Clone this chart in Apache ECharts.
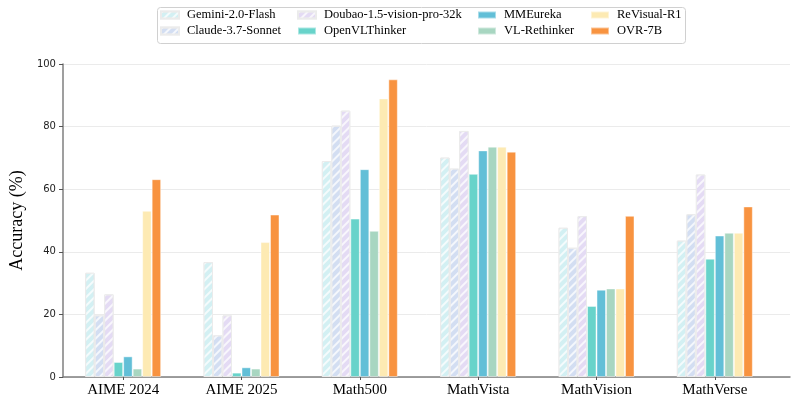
<!DOCTYPE html>
<html><head><meta charset="utf-8">
<script src="https://cdn.jsdelivr.net/npm/echarts@6/dist/echarts.min.js"></script>
<style>html,body{margin:0;padding:0;background:#fff}#c{width:793px;height:404px}</style>
</head><body><div id="c"></div>
<script>
const categories = ['AIME 2024','AIME 2025','Math500','MathVista','MathVision','MathVerse'];
const seriesNames = ['Gemini-2.0-Flash','Claude-3.7-Sonnet','Doubao-1.5-vision-pro-32k','OpenVLThinker','MMEureka','VL-Rethinker','ReVisual-R1','OVR-7B'];
const gemini   = [33.3, 36.7, 69.0, 70.1, 47.7, 43.6];
const claude   = [19.7, 13.3, 80.3, 66.6, 41.3, 52.0];
const doubao   = [26.4, 19.7, 85.1, 78.6, 51.4, 64.7];
const openvl   = [4.8, 1.4, 50.6, 64.9, 22.7, 37.8];
const mmeureka = [6.6, 3.1, 66.4, 72.4, 27.9, 45.2];
const vlreth   = [2.7, 2.7, 46.7, 73.6, 28.3, 46.1];
const revisual = [53.1, 43.1, 89.0, 73.6, 28.3, 46.1];
const ovr      = [63.2, 51.9, 95.1, 72.0, 51.5, 54.5];
const yTicks = [0, 20, 40, 60, 80, 100];

const allData = [gemini, claude, doubao, openvl, mmeureka, vlreth, revisual, ovr];
const colors = ['#d3f0f3','#d3def2','#e4dbf4','#68d3ca','#62bfd7','#a8d6c1','#fdeab3','#f89340'];
const hatched = [true, true, true, false, false, false, false, false];

const serif = 'Liberation Serif';
const hatch = {symbol:'rect', symbolSize:1, dashArrayX:[1,0], dashArrayY:[1.5,3.5], rotation:-Math.PI/4, color:'rgba(255,255,255,0.75)'};

const series = seriesNames.map((n, i) => ({
  name: n, type: 'bar', xAxisIndex: 1, yAxisIndex: 1,
  data: allData[i], barWidth: 9.5, barGap: '0%',
  itemStyle: Object.assign({color: colors[i], borderColor: hatched[i] ? 'rgba(235,235,235,0.9)' : 'rgba(255,255,255,0.45)', borderWidth: 1},
    hatched[i] ? {decal: hatch} : {}),
  emphasis: {disabled: true}
}));

const legendCols = [[0,1],[2,3],[4,5],[6,7]];
const legendLeft = [160, 297, 477, 590];
const legends = legendCols.map((c, k) => ({
  orient: 'vertical', left: legendLeft[k], top: 8, padding: 0,
  itemWidth: 18, itemHeight: 7, itemGap: 2, icon: 'rect',
  data: c.map(j => seriesNames[j]),
  textStyle: {fontFamily: serif, fontSize: 12.5, color: '#000', lineHeight: 14, padding: [0,0,0,3]},
  selectedMode: false
}));

const chart = echarts.init(document.getElementById('c'), null, {renderer: 'canvas'});
chart.setOption({
  animation: false,
  legend: legends,
  graphic: [{type: 'rect', left: 155, top: 5, shape: {width: 528, height: 36, r: 3}, style: {fill: 'none', stroke: '#d0d0d0', lineWidth: 1}, z: 1}],
  grid: [
    {left: 52, right: 3, top: 64, bottom: 27},
    {left: 64, right: 19, top: 64, bottom: 27}
  ],
  xAxis: [
    {gridIndex: 0, type: 'value', min: 0, max: 1, axisLabel: {show: false}, axisTick: {show: false}, splitLine: {show: false},
      axisLine: {show: true, lineStyle: {color: '#7f7f7f', width: 1.5}}},
    {gridIndex: 1, type: 'category', data: categories,
      axisLine: {show: false},
      axisTick: {show: true, alignWithLabel: true, length: 3, lineStyle: {color: '#555'}},
      axisLabel: {fontFamily: serif, fontSize: 15, color: '#000', margin: 6}}
  ],
  yAxis: [
    {gridIndex: 0, type: 'value', min: 0, max: 100, interval: 20,
      name: 'Accuracy (%)', nameLocation: 'middle', nameGap: 29,
      nameTextStyle: {fontFamily: serif, fontSize: 18, color: '#000'},
      axisLine: {show: true, lineStyle: {color: '#7f7f7f', width: 1.5}},
      axisTick: {show: true, length: 4, lineStyle: {color: '#555'}},
      axisLabel: {fontFamily: 'DejaVu Sans', fontSize: 10, color: '#222', margin: 7,
        formatter: v => yTicks.includes(v) ? String(v) : ''},
      splitLine: {show: true, lineStyle: {color: '#ebebeb', width: 1}}},
    {gridIndex: 1, type: 'value', min: 0, max: 100, show: false}
  ],
  series: series
});
</script>
</body></html>
